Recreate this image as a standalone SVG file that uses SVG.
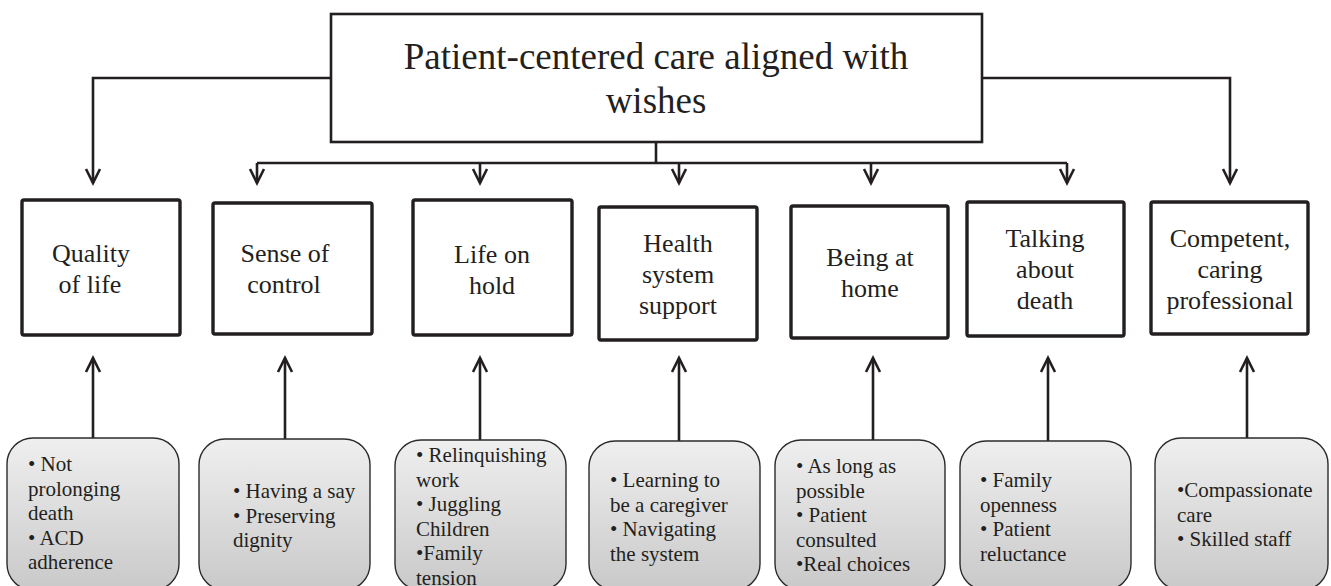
<svg xmlns="http://www.w3.org/2000/svg" width="1331" height="586" viewBox="0 0 1331 586">
<style>
text{font-family:"Liberation Serif","Times New Roman",serif;fill:#231f20}
.title{font-size:37px;text-anchor:middle}
.lab{font-size:26px;text-anchor:middle}
.bul{font-size:21px}
.tbox{fill:#fff;stroke:#231f20;stroke-width:2.6}
.nbox{fill:#fff;stroke:#231f20;stroke-width:3.4}
.sbox{fill:url(#g);stroke:#2b2b2b;stroke-width:1.4}
.c{fill:none;stroke:#231f20;stroke-width:2.6}
.a{fill:none;stroke:#231f20;stroke-width:2.6;marker-end:url(#v)}
</style>
<defs>
<linearGradient id="g" x1="0" y1="0" x2="0" y2="1">
<stop offset="0" stop-color="#efefef"/>
<stop offset="1" stop-color="#c9c9c9"/>
</linearGradient>
<marker id="v" markerUnits="userSpaceOnUse" viewBox="0 0 20 20" refX="17" refY="10" markerWidth="20" markerHeight="20" orient="auto">
<path d="M3,3 L17,10 L3,17" fill="none" stroke="#231f20" stroke-width="2.6"/>
</marker>
</defs>

<g id="connectors">
<path class="a" d="M331,78 H93 V183"/>
<path class="a" d="M982,78 H1230 V183"/>
<path class="c" d="M656,142 V163"/>
<path class="c" d="M257,163 H1067"/>
<path class="a" d="M257,163 V183"/>
<path class="a" d="M480,163 V183"/>
<path class="a" d="M679,163 V183"/>
<path class="a" d="M871,163 V183"/>
<path class="a" d="M1067,163 V183"/>
<path class="a" d="M93,438 V358"/>
<path class="a" d="M285,439 V358"/>
<path class="a" d="M480,440 V358"/>
<path class="a" d="M679,441 V358"/>
<path class="a" d="M873,440 V358"/>
<path class="a" d="M1048,441 V358"/>
<path class="a" d="M1247,438 V358"/>
</g>

<g id="root">
<rect class="tbox" x="331" y="14" width="651" height="128"/>
<text class="title" x="656" y="69">Patient-centered care aligned with</text>
<text class="title" x="656" y="113">wishes</text>
</g>

<g id="n1"><rect class="nbox" x="22" y="200" width="158" height="135" rx="2"/>
<text class="lab" x="91" y="262">Quality</text><text class="lab" x="90" y="293">of life</text></g>
<g id="n2"><rect class="nbox" x="213" y="203" width="159" height="131" rx="2"/>
<text class="lab" x="285" y="262">Sense of</text><text class="lab" x="284" y="293">control</text></g>
<g id="n3"><rect class="nbox" x="413" y="200" width="159" height="135" rx="2"/>
<text class="lab" x="492" y="263">Life on</text><text class="lab" x="492" y="294">hold</text></g>
<g id="n4"><rect class="nbox" x="599" y="207" width="158" height="133" rx="2"/>
<text class="lab" x="678" y="252">Health</text><text class="lab" x="678" y="283">system</text><text class="lab" x="678" y="314">support</text></g>
<g id="n5"><rect class="nbox" x="791" y="206" width="157" height="132" rx="2"/>
<text class="lab" x="870" y="266">Being at</text><text class="lab" x="870" y="297">home</text></g>
<g id="n6"><rect class="nbox" x="967" y="202" width="157" height="134" rx="2"/>
<text class="lab" x="1045" y="247">Talking</text><text class="lab" x="1045" y="278">about</text><text class="lab" x="1045" y="309">death</text></g>
<g id="n7"><rect class="nbox" x="1151" y="202" width="157" height="132" rx="2"/>
<text class="lab" x="1230" y="247">Competent,</text><text class="lab" x="1230" y="278">caring</text><text class="lab" x="1230" y="309">professional</text></g>

<g id="s1"><rect class="sbox" x="7" y="438" width="172" height="152" rx="26"/>
<text class="bul" x="28" y="471">• Not</text><text class="bul" x="28" y="495.5">prolonging</text><text class="bul" x="28" y="520">death</text><text class="bul" x="28" y="544.5">• ACD</text><text class="bul" x="28" y="569">adherence</text></g>
<g id="s2"><rect class="sbox" x="199" y="439" width="171" height="151" rx="26"/>
<text class="bul" x="233" y="498">• Having a say</text><text class="bul" x="233" y="522.5">• Preserving</text><text class="bul" x="233" y="547">dignity</text></g>
<g id="s3"><rect class="sbox" x="395" y="440" width="171" height="150" rx="26"/>
<text class="bul" x="416" y="462">• Relinquishing</text><text class="bul" x="416" y="486.5">work</text><text class="bul" x="416" y="511">• Juggling</text><text class="bul" x="416" y="535.5">Children</text><text class="bul" x="416" y="560">•Family</text><text class="bul" x="416" y="584.5">tension</text></g>
<g id="s4"><rect class="sbox" x="589" y="441" width="171" height="149" rx="26"/>
<text class="bul" x="610" y="487">• Learning to</text><text class="bul" x="610" y="511.5">be a caregiver</text><text class="bul" x="610" y="536">• Navigating</text><text class="bul" x="610" y="560.5">the system</text></g>
<g id="s5"><rect class="sbox" x="775" y="440" width="170" height="150" rx="26"/>
<text class="bul" x="796" y="473">• As long as</text><text class="bul" x="796" y="497.5">possible</text><text class="bul" x="796" y="522">• Patient</text><text class="bul" x="796" y="546.5">consulted</text><text class="bul" x="796" y="571">•Real choices</text></g>
<g id="s6"><rect class="sbox" x="960" y="441" width="171" height="149" rx="26"/>
<text class="bul" x="980" y="487">• Family</text><text class="bul" x="980" y="511.5">openness</text><text class="bul" x="980" y="536">• Patient</text><text class="bul" x="980" y="560.5">reluctance</text></g>
<g id="s7"><rect class="sbox" x="1155" y="438" width="173" height="152" rx="26"/>
<text class="bul" x="1177" y="497">•Compassionate</text><text class="bul" x="1177" y="521.5">care</text><text class="bul" x="1177" y="546">• Skilled staff</text></g>
</svg>
